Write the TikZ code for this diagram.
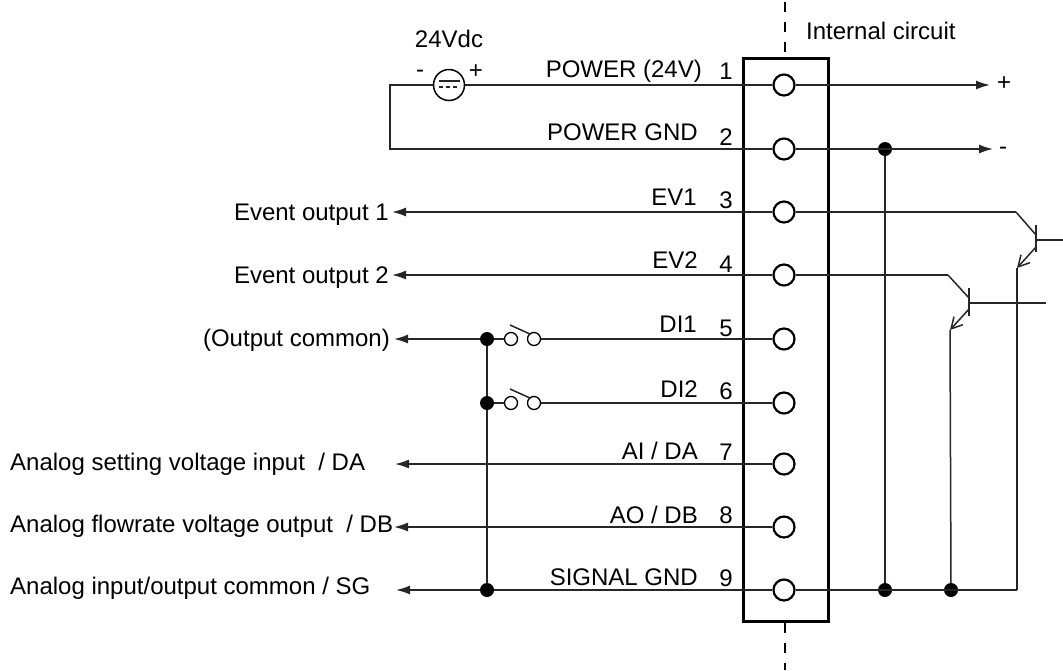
\documentclass[tikz,border=0pt]{standalone}
\usepackage{fontspec}
\setmainfont{Liberation Sans}
\usetikzlibrary{arrows.meta}
\tikzset{
  wire/.style={line width=1.5pt, black!85},
  sig/.style={wire, -{Latex[length=14pt,width=9pt]}},
  term/.style={circle, draw, fill=white, line width=2.2pt, minimum size=21pt, inner sep=0pt},
  sw/.style={circle, draw, fill=white, line width=1.3pt, minimum size=13pt, inner sep=0pt},
  dot/.style={circle, fill=black, minimum size=14pt, inner sep=0pt},
  txt/.style={font=\fontsize{24}{28}\selectfont, inner sep=0pt},
}

\begin{document}
\begin{tikzpicture}[x=1pt,y=-1pt]
  \useasboundingbox (0,0) rectangle (1063,670);

  % terminal block
  \node[draw, line width=3pt, minimum width=85pt, minimum height=563pt, inner sep=0pt] (block) at (785.75,339.5) {};
  \coordinate (dashtop) at (785,2);
  \coordinate (dashbot) at (785,670);
  \draw[line width=1.6pt, dash pattern=on 10pt off 10pt] (dashtop) -- (block.north -| dashtop);
  \draw[line width=1.6pt, dash pattern=on 10pt off 10pt] (block.south -| dashbot) -- (dashbot);
  \node[txt, anchor=base west] (intern) at (806,39) {Internal circuit};

  \foreach \n/\rowY/\right/\base/\numbase/\lab in {1/85/702/77/79/{POWER (24V)}, 2/149/698/140/145/{POWER GND},
      3/212/697/205/208/{EV1}, 4/275/698/268/272/{EV2}, 5/339/697/332/336/{DI1}, 6/403/698/397/399/{DI2},
      7/464/698/459/460/{AI / DA}, 8/527/698/523/523/{AO / DB}, 9/590/698/585/586/{SIGNAL GND}}{
    \node[term] (t\n) at (784,\rowY) {};
    \node[txt, anchor=base east] (lab\n) at (\right,\base) {\lab};
    \node[txt, anchor=base] (num\n) at (726,\numbase) {\n};
  }

  % power source
  \node[circle, draw, line width=1.5pt, minimum size=31pt, inner sep=0pt] (src) at (449,85) {};
  \coordinate (srcA) at (439,81);
  \coordinate (srcB) at (460,81);
  \coordinate (srcC) at (439,87);
  \coordinate (srcD) at (460,87);
  \draw[wire] (srcA) -- (srcB);
  \draw[wire, dash pattern=on 4pt off 3pt] (srcC) -- (srcD);
  \node[txt, anchor=base] (vdc) at (449,47) {24Vdc};
  \node[txt, anchor=base] (minus) at (420,77) {-};
  \node[txt, anchor=base] (plus) at (476,78) {+};
  \coordinate (cornerA) at (390,85);
  \coordinate (cornerB) at (390,149);
  \draw[wire] (src) -- (cornerA) -- (cornerB) -- (t2);
  \draw[wire] (src) -- (t1);

  % outputs on the right
  \coordinate (pwrP) at (990,85);
  \coordinate (pwrN) at (993,149);
  \node[txt, anchor=base] (outP) at (1004,90) {+};
  \node[txt, anchor=base] (outN) at (1003,154) {-};
  \node[dot] (d2) at (885,149) {};
  \node[dot] (d9a) at (885,590) {};
  \node[dot] (d9b) at (951,590) {};
  \draw[sig] (t1) -- (pwrP);
  \draw[sig] (t2) -- (pwrN);
  \draw[wire] (d2) -- (d9a);
  \coordinate (gndR) at (1017,590);
  \draw[wire] (t9) -- (gndR);

  % transistors
  \coordinate (c1) at (1016,212);
  \coordinate (c1b) at (1036,235);
  \coordinate (bar1a) at (1036,225);
  \coordinate (bar1b) at (1036,252);
  \coordinate (b1) at (1036,240);
  \coordinate (b1end) at (1063,240);
  \coordinate (e1) at (1036,247);
  \coordinate (e1end) at (1017,268);
  \draw[wire] (t3) -- (c1);
  \draw[wire] (c1) -- (c1b);
  \draw[wire] (bar1a) -- (bar1b);
  \draw[wire] (b1) -- (b1end);
  \draw[wire, -{Straight Barb[length=11pt,width=12pt]}] (e1) -- (e1end);
  \draw[wire] (e1end) -- (gndR);

  \coordinate (c2) at (948,275);
  \coordinate (c2b) at (969,298);
  \coordinate (bar2a) at (969,288);
  \coordinate (bar2b) at (969,316);
  \coordinate (b2) at (969,303);
  \coordinate (b2end) at (1046,303);
  \coordinate (e2) at (969,309);
  \coordinate (e2end) at (950,330);
  \draw[wire] (t4) -- (c2);
  \draw[wire] (c2) -- (c2b);
  \draw[wire] (bar2a) -- (bar2b);
  \draw[wire] (b2) -- (b2end);
  \draw[wire, -{Straight Barb[length=11pt,width=12pt]}] (e2) -- (e2end);
  \draw[wire] (e2end) -- (d9b);

  % outputs on the left
  \node[txt, anchor=base east] (ev1) at (389,220) {Event output 1};
  \node[txt, anchor=base east] (ev2) at (389,283) {Event output 2};
  \node[txt, anchor=base east] (com) at (390,346) {(Output common)};
  \node[txt, anchor=base west] (ain) at (10,470) {Analog setting voltage input\ \ / DA};
  \node[txt, anchor=base west] (aout) at (10,532) {Analog flowrate voltage output\ \ / DB};
  \node[txt, anchor=base west] (acom) at (10,594) {Analog input/output common / SG};
  \coordinate (tip3) at (392,212);
  \coordinate (tip4) at (392,275);
  \coordinate (tip5) at (394,339);
  \coordinate (tip7) at (395,464);
  \coordinate (tip8) at (394,527);
  \coordinate (tip9) at (396,590);
  \draw[sig] (t3) -- (tip3);
  \draw[sig] (t4) -- (tip4);
  \draw[sig] (t7) -- (tip7);
  \draw[sig] (t8) -- (tip8);

  % switches
  \node[dot] (d5) at (487,339) {};
  \node[dot] (d6) at (487,403) {};
  \node[dot] (d9c) at (487,590) {};
  \foreach \n/\y in {5/339,6/403}{
    \node[sw] (swa\n) at (511,\y) {};
    \node[sw] (swb\n) at (534,\y) {};
    \pgfmathsetmacro\bladeA{\y-14}
    \pgfmathsetmacro\bladeB{\y-5}
    \coordinate (bla\n) at (510,\bladeA);
    \coordinate (blb\n) at (530,\bladeB);
    \draw[wire] (bla\n) -- (blb\n);
    \draw[wire] (d\n) -- (swa\n);
    \draw[wire] (swb\n) -- (t\n);
  }
  \draw[sig] (d5) -- (tip5);
  \draw[sig] (d9c) -- (tip9);
  \draw[wire] (d9c) -- (t9);
  \draw[wire] (d5) -- (d6);
  \draw[wire] (d6) -- (d9c);
\end{tikzpicture}
\end{document}
